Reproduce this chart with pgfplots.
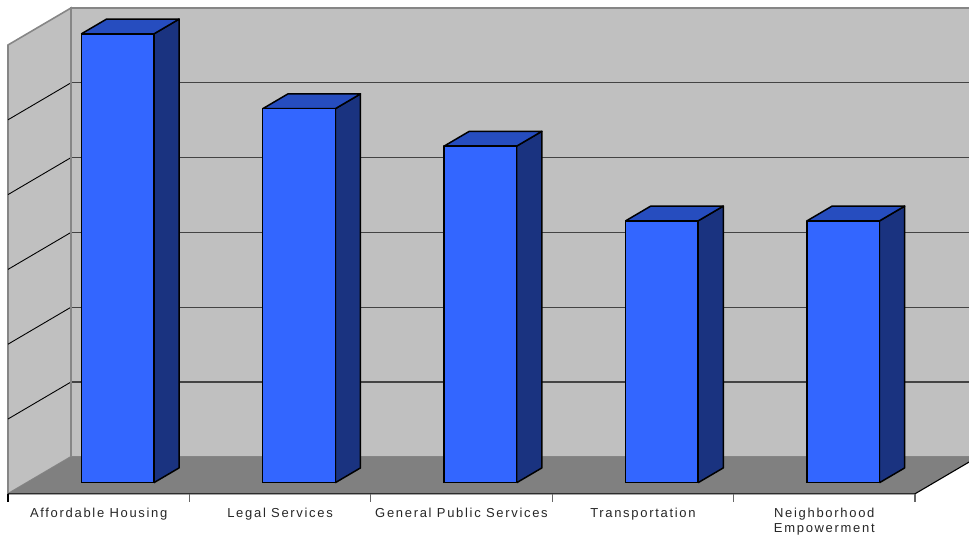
\documentclass[border=0pt]{standalone}
\usepackage{fontspec}
\setmainfont[LetterSpace=13]{Liberation Sans}
\usepackage{pgfplots}
\pgfplotsset{compat=1.18}
\definecolor{wall}{HTML}{C0C0C0}
\definecolor{floorgrey}{HTML}{808080}
\definecolor{barfront}{HTML}{3366FF}
\definecolor{bartop}{HTML}{264DBF}
\definecolor{barside}{HTML}{1A3380}

% One box: left and right edge along x, height along z; it sits mid-depth on the floor.
\newcommand{\threedbar}[3]{%
  \addplot3[draw=black,line width=1.5pt,line join=round,fill=barside] coordinates
    {(#2,0.3,0) (#2,0.7,0) (#2,0.7,#3) (#2,0.3,#3) (#2,0.3,0)};
  \addplot3[draw=black,line width=1.5pt,line join=round,fill=bartop] coordinates
    {(#1,0.3,#3) (#2,0.3,#3) (#2,0.7,#3) (#1,0.7,#3) (#1,0.3,#3)};
  \addplot3[draw=black,line width=1.5pt,line join=round,fill=barfront] coordinates
    {(#1,0.3,0) (#2,0.3,0) (#2,0.3,#3) (#1,0.3,#3) (#1,0.3,0)};
}
% Gridline across the left and back walls at one height.
\newcommand{\wallgrid}[1]{%
  \addplot3[black,line width=0.9pt] coordinates {(0,0,#1) (0,1,#1)};
  \addplot3[black!65!wall,line width=1.1pt] coordinates {(0,1,#1) (5,1,#1)};
}
\newcommand{\xtickmark}[2]{%
  \addplot3[#2,line width=1.1pt] coordinates {(#1,0,0) (#1,0,-0.107)};
}

\begin{document}
\begin{tikzpicture}
\path[use as bounding box,clip] (0pt,0pt) rectangle (969pt,539pt);
\begin{axis}[
  at={(8pt,45.2pt)},anchor=origin,
  x={(181.4pt,0pt)},y={(63pt,37pt)},z={(0pt,74.8pt)},
  xmin=0,xmax=5,ymin=0,ymax=1,zmin=0,zmax=6,
  hide axis,clip=false,
]
  % walls and floor
  \addplot3[draw=floorgrey!90!wall,line width=1.6pt,fill=wall] coordinates
    {(0,0,0) (0,1,0) (0,1,6) (0,0,6) (0,0,0)};
  \addplot3[draw=floorgrey!90!wall,line width=1.6pt,fill=wall] coordinates
    {(0,1,0) (5,1,0) (5,1,6) (0,1,6) (0,1,0)};
  \addplot3[draw=none,fill=floorgrey] coordinates
    {(0,0,0) (5,0,0) (5,1,0) (0,1,0) (0,0,0)};
  \wallgrid{1} \wallgrid{2} \wallgrid{3} \wallgrid{4} \wallgrid{5}
  \addplot3[floorgrey!90!wall,line width=2.4pt] coordinates {(0,1,0) (0,1,6)};
  % front and right edges of the floor
  \addplot3[black,line width=1.1pt] coordinates {(0,0,0) (5,0,0) (5,1,0)};
  \xtickmark{0}{black}
  \xtickmark{1}{black!60}
  \xtickmark{2}{black!60}
  \xtickmark{3}{black!60}
  \xtickmark{4}{black!60}
  \xtickmark{5}{black!60}
  % bars: left edge, right edge, value
  \threedbar{0.3}{0.7}{6}
  \threedbar{1.3}{1.7}{5}
  \threedbar{2.3}{2.7}{4.5}
  \threedbar{3.3}{3.7}{3.5}
  \threedbar{4.3}{4.7}{3.5}
  % category names
  \begin{scope}[every node/.style={anchor=north,font=\fontsize{13}{15.5}\selectfont,
      align=center,inner sep=0pt,yshift=-14pt,text=black!85}]
    \node at (axis cs:0.5,0,0) {Affordable Housing};
    \node at (axis cs:1.5,0,0) {Legal Services};
    \node at (axis cs:2.5,0,0) {General Public Services};
    \node at (axis cs:3.5,0,0) {Transportation};
    \node at (axis cs:4.5,0,0) {Neighborhood\\Empowerment};
  \end{scope}
\end{axis}
\end{tikzpicture}
\end{document}
